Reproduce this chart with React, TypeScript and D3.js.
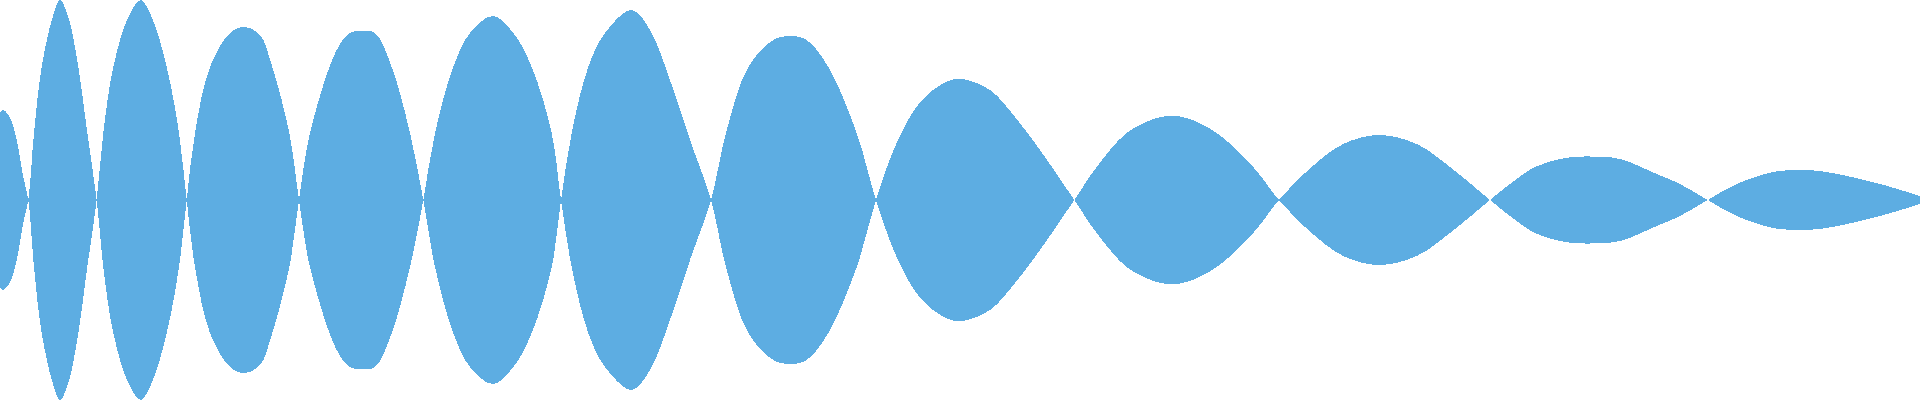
import React, { useEffect, useRef } from 'react';
import * as d3 from 'd3';

// sample positions (ms), one row per half-wave
const times = [
  0, 3.3, 10, 16.7, 23.3, 28.3,
  34, 41.7, 52.7, 60, 68.3, 78.3, 87.3, 96.7,
  103.3, 113.3, 128.3, 140.7, 151.7, 166.7, 179, 186.7,
  195, 210, 230, 245, 260, 271.7, 289.3, 299,
  310, 336.7, 350, 361.7, 375, 391.7, 410, 423.3,
  435, 453.3, 470, 492.7, 513.3, 531.7, 551.7, 561,
  571.7, 588.3, 605, 631.7, 650, 670, 690, 711,
  726, 748.3, 773.3, 790.7, 806.7, 828.3, 856.7, 876,
  898, 922, 948, 962, 990, 1015, 1040, 1074.3,
  1096.7, 1126.7, 1156.7, 1171.7, 1186.7, 1216.7, 1253.3, 1279,
  1311.7, 1343.3, 1378.3, 1416.7, 1450, 1490,
  1510, 1535, 1565, 1590, 1620, 1656.7, 1680, 1707.7,
  1736.7, 1773.3, 1800, 1826.7, 1880, 1920,
];

// signed amplitude at each sample (full scale = 200)
const amplitudes = [
  87, 90, 82, 60, 23, 0,
  -67, -133, -183, -200, -183, -133, -67, 0,
  67, 133, 183, 200, 183, 133, 67, 0,
  -67, -133, -167, -173, -165, -135, -67, 0,
  67, 150, 167, 169, 167, 133, 67, 0,
  -67, -133, -167, -184, -167, -133, -67, 0,
  67, 133, 167, 190, 170, 120, 60, 0,
  -67, -133, -160, -164, -160, -133, -67, 0,
  60, 100, 119, 121, 110, 83, 50, 0,
  -33, -67, -82, -84, -82, -67, -33, 0,
  33, 56, 65, 56, 33, 0,
  -16, -33, -42, -43.5, -41, -26, -16, 0,
  16, 28, 30, 28, 16, 4,
];

const fillColor = '#5dade2';

const Waveform: React.FC<{ width?: number; height?: number }> = ({ width = 1920, height = 400 }) => {
  const svgRef = useRef<SVGSVGElement>(null);

  useEffect(() => {
    const svg = d3.select(svgRef.current);
    svg.selectAll('*').remove(); // limpa o SVG

    const data = times.map((t, i) => ({ t, v: amplitudes[i] }));

    const x = d3.scaleLinear()
      .domain([0, 1920])
      .range([0, width]);

    const y = d3.scaleLinear()
      .domain([-200, 200])
      .range([height, 0]);

    // mirrored area: top follows the signal, bottom its negative
    const area = d3.area<{ t: number; v: number }>()
      .x(d => x(d.t))
      .y0(d => y(-d.v))
      .y1(d => y(d.v))
      .curve(d3.curveCatmullRom.alpha(0.5));

    svg.append('path')
      .datum(data)
      .attr('fill', fillColor)
      .attr('shape-rendering', 'crispEdges') // reference has no anti-aliasing
      .attr('d', area);
  }, [width, height]);

  return (
    <svg
      ref={svgRef}
      width={width}
      height={height}
      style={{ position: 'absolute', left: 0, top: 0, display: 'block' }}
    />
  );
};

export default function App() {
  return <Waveform />;
}
